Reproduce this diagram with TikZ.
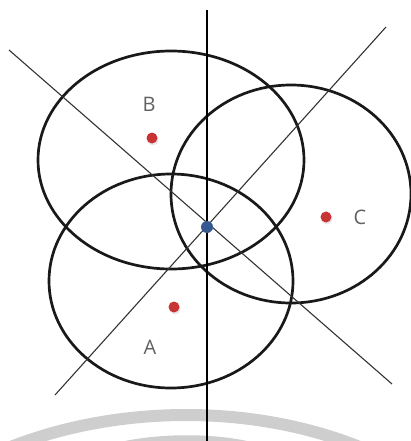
\documentclass[tikz,border=0pt]{standalone}
\usepackage{fontspec}
\setmainfont{Open Sans}
\usepackage{xcolor}
\usepackage{tikz}
\usetikzlibrary{positioning, calc, shadows}
\definecolor{DotRed}{RGB}{200, 52, 52}
\definecolor{DotBlue}{RGB}{52, 88, 145}
\definecolor{ArcGray}{RGB}{206, 206, 206}

\begin{document}
\begin{tikzpicture}[x=1pt, y=-1pt, font=\fontsize{20}{24}\selectfont,
    ring/.style={line width=2.7pt, black!90},
    axisline/.style={line width=1.1pt, black!80},
    site/.style={circle, fill=DotRed, inner sep=0pt, minimum size=11pt,
        drop shadow={opacity=0.18, shadow xshift=1pt, shadow yshift=-2pt}},
    hub/.style={circle, fill=DotBlue, inner sep=0pt, minimum size=12pt},
    sitename/.style={text=black!62, inner sep=0pt}]
    \useasboundingbox (0,0) rectangle (411,441);

    % 底部灰色弧线
    \begin{scope}
        \clip (0,0) rectangle (411,441);
        \draw[ArcGray, line width=12pt] (8,448) .. controls (118,404) and (255,404) .. (362,448);
        \draw[ArcGray, line width=11pt] (104,452) .. controls (150,437) and (225,437) .. (266,452);
    \end{scope}

    % 三个圆
    \draw[ring] (171,160) ellipse [x radius=133, y radius=109]; % B
    \draw[ring] (291,194) ellipse [x radius=120, y radius=109]; % C
    \draw[ring] (171,281) ellipse [x radius=122, y radius=107]; % A

    % 三条直线
    \coordinate (top) at (207,10);
    \coordinate (bottom) at (207,441);
    \coordinate (nw) at (9,50);
    \coordinate (se) at (392,384);
    \coordinate (sw) at (55,395);
    \coordinate (ne) at (386,27);
    \draw[line width=1.3pt, black] (top) -- (bottom);
    \draw[axisline] (nw) -- (se);
    \draw[axisline] (sw) -- (ne);

    % 交点
    \node[hub] (o) at (207,227) {};

    % 三个点及其标记
    \node[site] (b) at (152,138) {};
    \node[site] (c) at (326,217) {};
    \node[site] (a) at (174,307) {};
    \node[sitename] (lb) at (149,104) {B};
    \node[sitename] (lc) at (360,217) {C};
    \node[sitename] (la) at (150,347) {A};
\end{tikzpicture}
\end{document}
